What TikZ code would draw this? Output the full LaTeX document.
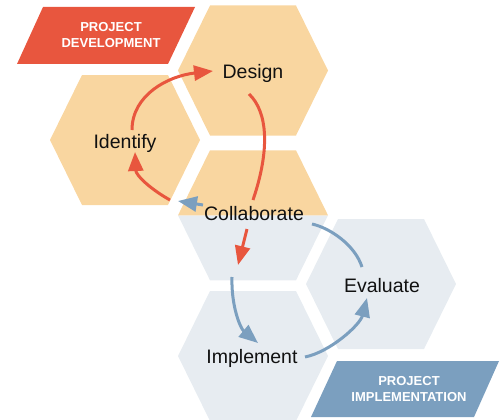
\documentclass[tikz,border=0pt]{standalone}
\usepackage{fontspec}
\setmainfont{Liberation Sans}
\usetikzlibrary{arrows.meta,calc}
\definecolor{hexorange}{RGB}{249,214,160}
\definecolor{hexgrey}{RGB}{231,236,241}
\definecolor{redc}{RGB}{232,86,62}
\definecolor{bluec}{RGB}{123,159,191}
\definecolor{txt}{RGB}{17,17,17}
\newcommand\hexagonat[2]{\fill[#1] ($(#2)+(-75,0)$) -- ($(#2)+(-43,-65)$) -- ($(#2)+(43,-65)$) -- ($(#2)+(75,0)$) -- ($(#2)+(43,65)$) -- ($(#2)+(-43,65)$) -- cycle;}
\begin{document}
\begin{tikzpicture}[x=1pt,y=-1pt,
  lbl/.style={font=\fontsize{19.5}{22}\selectfont, text=txt, inner sep=0pt, anchor=base},
  tag/.style={font=\fontsize{13}{15.5}\selectfont\bfseries, text=white, align=center, inner sep=0pt},
  redarrow/.style={draw=redc, line width=3pt, -{Triangle[length=19pt,width=15pt]}},
  blueline/.style={draw=bluec, line width=3pt},
  bluearrow/.style={blueline, -{Triangle[length=19pt,width=15pt]}}]
\useasboundingbox (0,0) rectangle (503,420);
\clip (0,0) rectangle (503,420);
% hexagon centres
\coordinate (cDesign) at (253,70.5);
\coordinate (cIdentify) at (125,140);
\coordinate (cCollab) at (253,215.3);
\coordinate (cEval) at (381,284);
\coordinate (cImpl) at (253,356);
% hexagons
\hexagonat{hexorange}{cDesign}
\hexagonat{hexorange}{cIdentify}
\hexagonat{hexgrey}{cEval}
\hexagonat{hexgrey}{cImpl}
\fill[hexgrey] ($(cCollab)+(-75,0)$) -- ($(cCollab)+(75,0)$) -- ($(cCollab)+(43,65)$) -- ($(cCollab)+(-43,65)$) -- cycle;
\fill[hexorange] ($(cCollab)+(-75,0)$) -- ($(cCollab)+(-43,-65)$) -- ($(cCollab)+(43,-65)$) -- ($(cCollab)+(75,0)$) -- cycle;
% tags
\fill[redc] (43,7) -- (195,7) -- (168,64) -- (17,64) -- cycle;
\node[tag] (devtag) at (111,35) {PROJECT\\DEVELOPMENT};
\fill[bluec] (337,361) -- (499,361) -- (474,417) -- (311,417) -- cycle;
\node[tag] (imptag) at (409,389) {PROJECT\\IMPLEMENTATION};
% labels
\node[lbl] (design) at (253,78) {Design};
\node[lbl] (identify) at (125,148) {Identify};
\node[lbl] (collab) at (254,220) {Collaborate};
\node[lbl] (eval) at (382,292) {Evaluate};
\node[lbl] (impl) at (252,363) {Implement};
% connector end points
\coordinate (r1s) at (132,130);
\coordinate (r1e) at (213,71);
\coordinate (r2s) at (170,200);
\coordinate (r2e) at (135,152);
\coordinate (r3s) at (249,94);
\coordinate (r3e) at (253,200);
\coordinate (r4s) at (247,229);
\coordinate (r4e) at (238,265);
\coordinate (b1s) at (203,205);
\coordinate (b1e) at (178,201);
\coordinate (b2s) at (312,224);
\coordinate (b2e) at (362,267);
\coordinate (b3s) at (232,277);
\coordinate (b3e) at (258,343);
\coordinate (b4s) at (305,357);
\coordinate (b4e) at (367,298);
% red connectors
\draw[redarrow] (r1s) .. controls (132,95) and (168,76) .. (r1e);
\draw[redarrow] (r2s) .. controls (152,190) and (136,176) .. (r2e);
\draw[draw=redc, line width=3pt] (r3s) .. controls (268,112) and (270,150) .. (r3e);
\draw[redarrow] (r4s) -- (r4e);
% blue connectors
\draw[bluearrow] (b1s) -- (b1e);
\draw[blueline] (b2s) .. controls (330,228) and (355,245) .. (b2e);
\draw[bluearrow] (b3s) .. controls (231,305) and (240,328) .. (b3e);
\draw[bluearrow] (b4s) .. controls (330,352) and (360,325) .. (b4e);
\end{tikzpicture}
\end{document}
